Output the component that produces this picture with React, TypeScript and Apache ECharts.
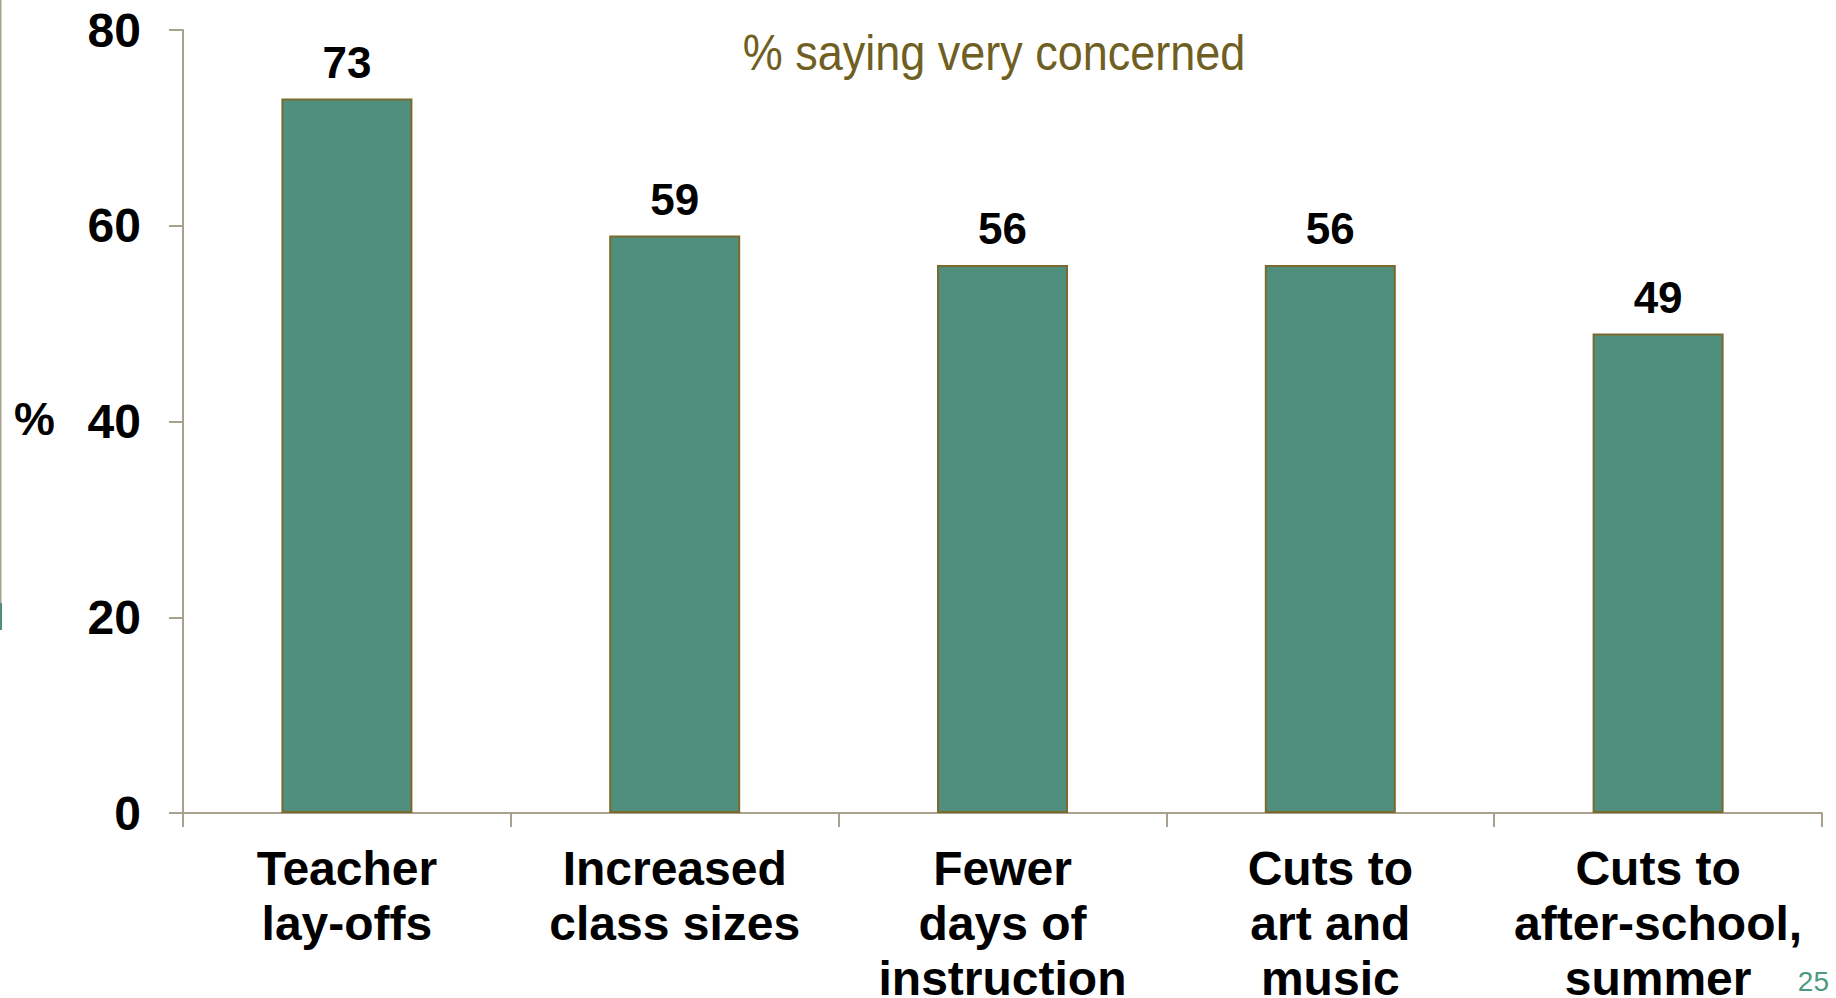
import React, { useEffect, useRef } from "react";
import * as echarts from "echarts";

const categories = [
  "Teacher\nlay-offs",
  "Increased\nclass sizes",
  "Fewer\ndays of\ninstruction",
  "Cuts to\nart and\nmusic",
  "Cuts to\nafter-school,\nsummer",
];
const values = [73, 59, 56, 56, 49];
const yTicks = { min: 0, max: 80, interval: 20 };
const titleText = "% saying very concerned";
const unitText = "%";
const pageNumber = "25";

export default function App() {
  const ref = useRef<HTMLDivElement>(null);
  useEffect(() => {
    if (!ref.current) return;
    const chart = echarts.init(ref.current, undefined, { renderer: "svg" });
    const axisColor = "#A9A190";
    chart.setOption({
      animation: false,
      backgroundColor: "#ffffff",
      grid: {
        left: 183,
        right: 14,
        top: 30,
        bottom: 185,
        containLabel: false,
        outerBoundsMode: "none",
      },
      xAxis: {
        type: "category",
        data: categories,
        axisLine: { show: true, lineStyle: { color: axisColor, width: 2 } },
        axisTick: { show: true, length: 14, lineStyle: { color: axisColor, width: 2 } },
        axisLabel: {
          interval: 0,
          margin: 28,
          color: "#000000",
          fontFamily: "'Liberation Sans', Arial, sans-serif",
          fontWeight: "bold",
          fontSize: 48,
          lineHeight: 55,
        },
      },
      yAxis: {
        type: "value",
        min: yTicks.min,
        max: yTicks.max,
        interval: yTicks.interval,
        splitLine: { show: false },
        axisLine: { show: true, lineStyle: { color: axisColor, width: 2 } },
        axisTick: { show: true, length: 14, lineStyle: { color: axisColor, width: 2 } },
        axisLabel: {
          margin: 42,
          color: "#000000",
          fontFamily: "'Liberation Sans', Arial, sans-serif",
          fontWeight: "bold",
          fontSize: 48,
        },
      },
      series: [
        {
          type: "bar",
          data: values,
          barWidth: 131,
          itemStyle: { color: "#508F7E", borderColor: "#7B6A2E", borderWidth: 2 },
          label: {
            show: true,
            position: "top",
            distance: 14,
            color: "#000000",
            fontFamily: "'Liberation Sans', Arial, sans-serif",
            fontWeight: "bold",
            fontSize: 44,
          },
        },
      ],
      graphic: [
        {
          type: "text",
          x: 994,
          y: 53,
          scaleX: 0.9,
          style: {
            text: titleText,
            fill: "#705F22",
            font: "50px 'Liberation Sans', Arial, sans-serif",
            align: "center",
            verticalAlign: "middle",
          },
        },
        {
          type: "text",
          x: 14,
          y: 419,
          style: {
            text: unitText,
            fill: "#000000",
            font: "bold 46px 'Liberation Sans', Arial, sans-serif",
            verticalAlign: "middle",
            align: "left",
          },
        },
        {
          type: "text",
          x: 1829,
          y: 981,
          style: {
            text: pageNumber,
            fill: "#4E9A80",
            font: "28px 'Liberation Sans', Arial, sans-serif",
            verticalAlign: "middle",
            align: "right",
          },
        },
        { type: "rect", shape: { x: 0, y: 0, width: 1.5, height: 603 }, style: { fill: "#A9A190" } },
        { type: "rect", shape: { x: 0, y: 603, width: 2, height: 27 }, style: { fill: "#508F7E" } },
      ],
    });
    return () => chart.dispose();
  }, []);
  return (
    <div
      ref={ref}
      style={{ position: "fixed", left: 0, top: 0, width: 1836, height: 998 }}
    />
  );
}
